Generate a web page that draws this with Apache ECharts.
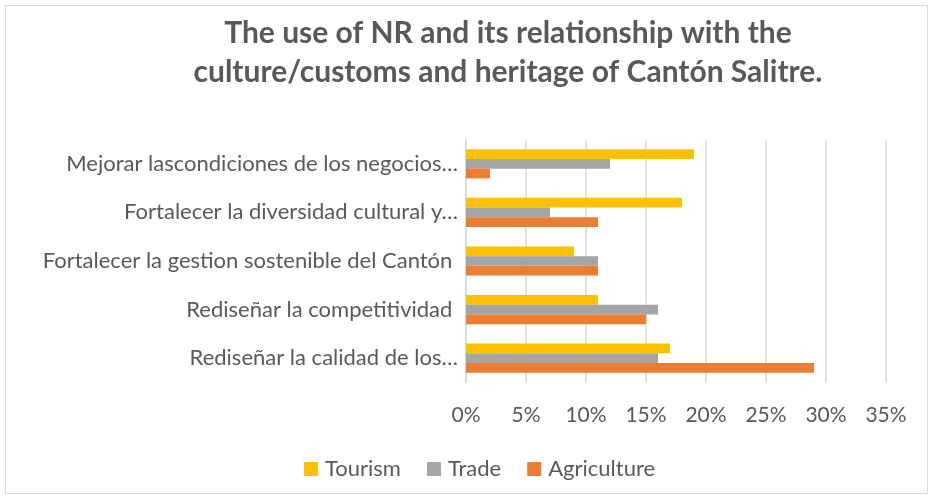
<!DOCTYPE html>
<html><head><meta charset="utf-8">
<script src="https://cdn.jsdelivr.net/npm/echarts@6/dist/echarts.min.js"></script>
<style>html,body{margin:0;padding:0;background:#fff}#c{width:933px;height:499px}</style>
</head><body><div id="c"></div>
<script>
const categories = ["Rediseñar la calidad de los…", "Rediseñar la competitividad ", "Fortalecer la gestion sostenible del Cantón ", "Fortalecer la diversidad cultural y…", "Mejorar lascondiciones de los negocios…"];
const tourism = [17, 11, 9, 18, 19];
const trade = [16, 16, 11, 7, 12];
const agriculture = [29, 15, 11, 11, 2];
const xTicks = [0, 5, 10, 15, 20, 25, 30, 35];
const titleLines = ["The use of NR and its relationship with the", "culture/customs and heritage of Cantón Salitre."];

const FONT = 'Lato';
const TXT = '#595959';
const chart = echarts.init(document.getElementById('c'), null, {renderer: 'canvas'});
chart.setOption({
  animation: false,
  textStyle: {fontFamily: FONT},
  graphic: [
    {type: 'rect', shape: {x: 5.5, y: 5.5, width: 922, height: 488}, style: {fill: 'none', stroke: '#d9d9d9', lineWidth: 1}},
    {type: 'text', x: 508, y: 33, style: {text: titleLines[0], font: 'bold 30px ' + FONT, fill: TXT, align: 'center', verticalAlign: 'middle'}},
    {type: 'text', x: 508, y: 72, style: {text: titleLines[1], font: 'bold 30px ' + FONT, fill: TXT, align: 'center', verticalAlign: 'middle'}}
  ],
  legend: {
    data: ['Tourism', 'Trade', 'Agriculture'],
    top: 453, left: 299,
    icon: 'rect', itemWidth: 14, itemHeight: 14, itemGap: 26,
    textStyle: {fontSize: 22, color: TXT, fontFamily: FONT, padding: [0, 0, 0, 2]}
  },
  grid: {left: 466, right: 47, top: 139.5, height: 243, containLabel: false},
  xAxis: {
    type: 'value', min: 0, max: 35, interval: 5,
    axisLine: {show: false}, axisTick: {show: false},
    splitLine: {lineStyle: {color: '#d9d9d9', width: 1.5}},
    axisLabel: {formatter: '{value}%', fontSize: 21, color: TXT, margin: 22, fontFamily: FONT}
  },
  yAxis: {
    type: 'category', data: categories,
    axisLine: {lineStyle: {color: '#d9d9d9', width: 1.5}}, axisTick: {show: false},
    axisLabel: {fontSize: 22, color: TXT, margin: 8, fontFamily: FONT}
  },
  series: [
    {name: 'Tourism', type: 'bar', data: tourism, itemStyle: {color: '#FFC000'}, barGap: '0%', barCategoryGap: '40%'},
    {name: 'Trade', type: 'bar', data: trade, itemStyle: {color: '#A5A5A5'}},
    {name: 'Agriculture', type: 'bar', data: agriculture, itemStyle: {color: '#ED7D31'}}
  ]
});
</script></body></html>
